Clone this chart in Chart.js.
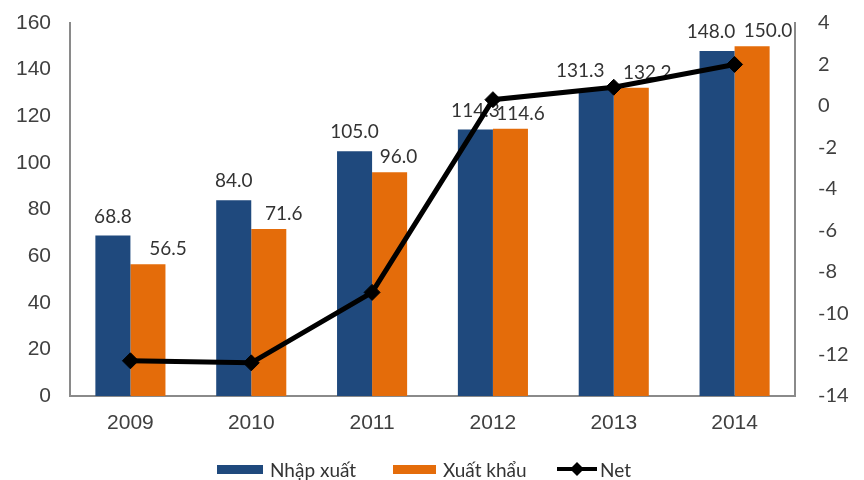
<!DOCTYPE html>
<html lang="vi">
<head>
<meta charset="utf-8">
<title>Nhập xuất 2009–2014</title>
<script src="https://cdn.jsdelivr.net/npm/chart.js@4.4.1/dist/chart.umd.min.js"></script>
<style>
  body { margin: 0; background: #fff; }
  #wrap { position: relative; width: 864px; height: 480px; }
  #legend { position: absolute; left: 0; top: 458px; width: 864px; height: 22px; font: 19px Lato, sans-serif; color: #333; }
  .item { position: absolute; top: 0; height: 22px; display: flex; align-items: center; }
  .swatch { height: 9px; margin-right: 7px; }
</style>
</head>
<body>
<div id="wrap">
  <canvas id="tradeChart"></canvas>
  <div id="legend">
    <div class="item" style="left:217px"><span class="swatch" style="width:46px;background:#1F497D"></span>Nhập xuất</div>
    <div class="item" style="left:393px"><span class="swatch" style="width:43px;background:#E46C0A"></span>Xuất khẩu</div>
    <div class="item" style="left:557px">
      <svg width="40" height="18" style="margin-right:3px"><line x1="0" y1="9" x2="40" y2="9" stroke="#000" stroke-width="4"/><path d="M20 2 L27 9 L20 16 L13 9 Z" fill="#000"/></svg>Net
    </div>
  </div>
</div>
<script>
// ----- Data -----
const years = ['2009', '2010', '2011', '2012', '2013', '2014'];
const nhapXuat = [68.8, 84.0, 105.0, 114.3, 131.3, 148.0];
const xuatKhau = [56.5, 71.6, 96.0, 114.6, 132.2, 150.0];
const net = [-12.3, -12.4, -9.0, 0.3, 0.9, 2.0];

const leftTicks = { min: 0, max: 160, step: 20 };
const rightTicks = { min: -14, max: 4, step: 2 };

// ----- Value labels above bars -----
// Nudges keep neighbouring labels from running into each other
const labelShift = [
  [0, 0, 0, 0, -16, -6],
  [20, 15, 9, 10, 16, 16]
];
const labelGap = [13, 9];

const barLabels = {
  id: 'barLabels',
  afterDatasetDraw(chart, args) {
    const meta = args.meta;
    if (meta.type !== 'bar') return;
    const values = chart.data.datasets[args.index].data;
    const shift = labelShift[args.index];
    const ctx = chart.ctx;
    ctx.save();
    ctx.font = '19px Lato, sans-serif';
    ctx.fillStyle = '#333';
    ctx.textAlign = 'center';
    ctx.textBaseline = 'alphabetic';
    meta.data.forEach((bar, i) => {
      ctx.fillText(values[i].toFixed(1), bar.x + shift[i], bar.y - labelGap[args.index]);
    });
    ctx.restore();
  }
};

const axisColor = '#8a8a8a';
const arialFamily = '"Liberation Sans", Arial, sans-serif';

// fixed axis widths; the label padding shouldn't push the plot area down
function sideAxis(width) {
  return function (scale) {
    scale.width = width;
    scale.paddingTop = 0;
    scale.paddingBottom = 0;
  };
}

const ctx = document.getElementById('tradeChart').getContext('2d');
window.tradeChart = new Chart(ctx, {
  type: 'bar',
  data: {
    labels: years,
    datasets: [
      {
        label: 'Nhập xuất',
        data: nhapXuat,
        yAxisID: 'y',
        backgroundColor: '#1F497D',
        barPercentage: 1,
        categoryPercentage: 0.58,
        order: 1
      },
      {
        label: 'Xuất khẩu',
        data: xuatKhau,
        yAxisID: 'y',
        backgroundColor: '#E46C0A',
        barPercentage: 1,
        categoryPercentage: 0.58,
        order: 1
      },
      {
        type: 'line',
        label: 'Net',
        data: net,
        yAxisID: 'y1',
        borderColor: '#000',
        backgroundColor: '#000',
        borderWidth: 5,
        pointStyle: 'rectRot',
        pointRadius: 8,
        pointBorderWidth: 1,
        tension: 0,
        order: 0
      }
    ]
  },
  options: {
    responsive: true,
    maintainAspectRatio: false,
    animation: false,
    layout: { padding: { top: 23, left: 0, right: 0, bottom: 0 } },
    plugins: {
      legend: { display: false },
      tooltip: { enabled: false }
    },
    scales: {
      x: {
        grid: { display: false, drawTicks: false },
        border: { display: true, color: axisColor, width: 2 },
        ticks: { color: '#404040', font: { family: arialFamily, size: 21 }, padding: 15 },
        afterFit(scale) { scale.height = 84; }
      },
      y: {
        position: 'left',
        min: leftTicks.min,
        max: leftTicks.max,
        grid: { display: false, drawTicks: false },
        border: { display: true, color: axisColor, width: 2 },
        ticks: { stepSize: leftTicks.step, color: '#404040', font: { family: arialFamily, size: 21 }, padding: 19 },
        afterFit: sideAxis(70)
      },
      y1: {
        position: 'right',
        min: rightTicks.min,
        max: rightTicks.max,
        grid: { display: false, drawTicks: false },
        border: { display: true, color: axisColor, width: 2 },
        ticks: { stepSize: rightTicks.step, color: '#404040', font: { family: 'Lato, sans-serif', size: 20 }, padding: 23 },
        afterFit: sideAxis(69)
      }
    }
  },
  plugins: [barLabels]
});
</script>
</body>
</html>
